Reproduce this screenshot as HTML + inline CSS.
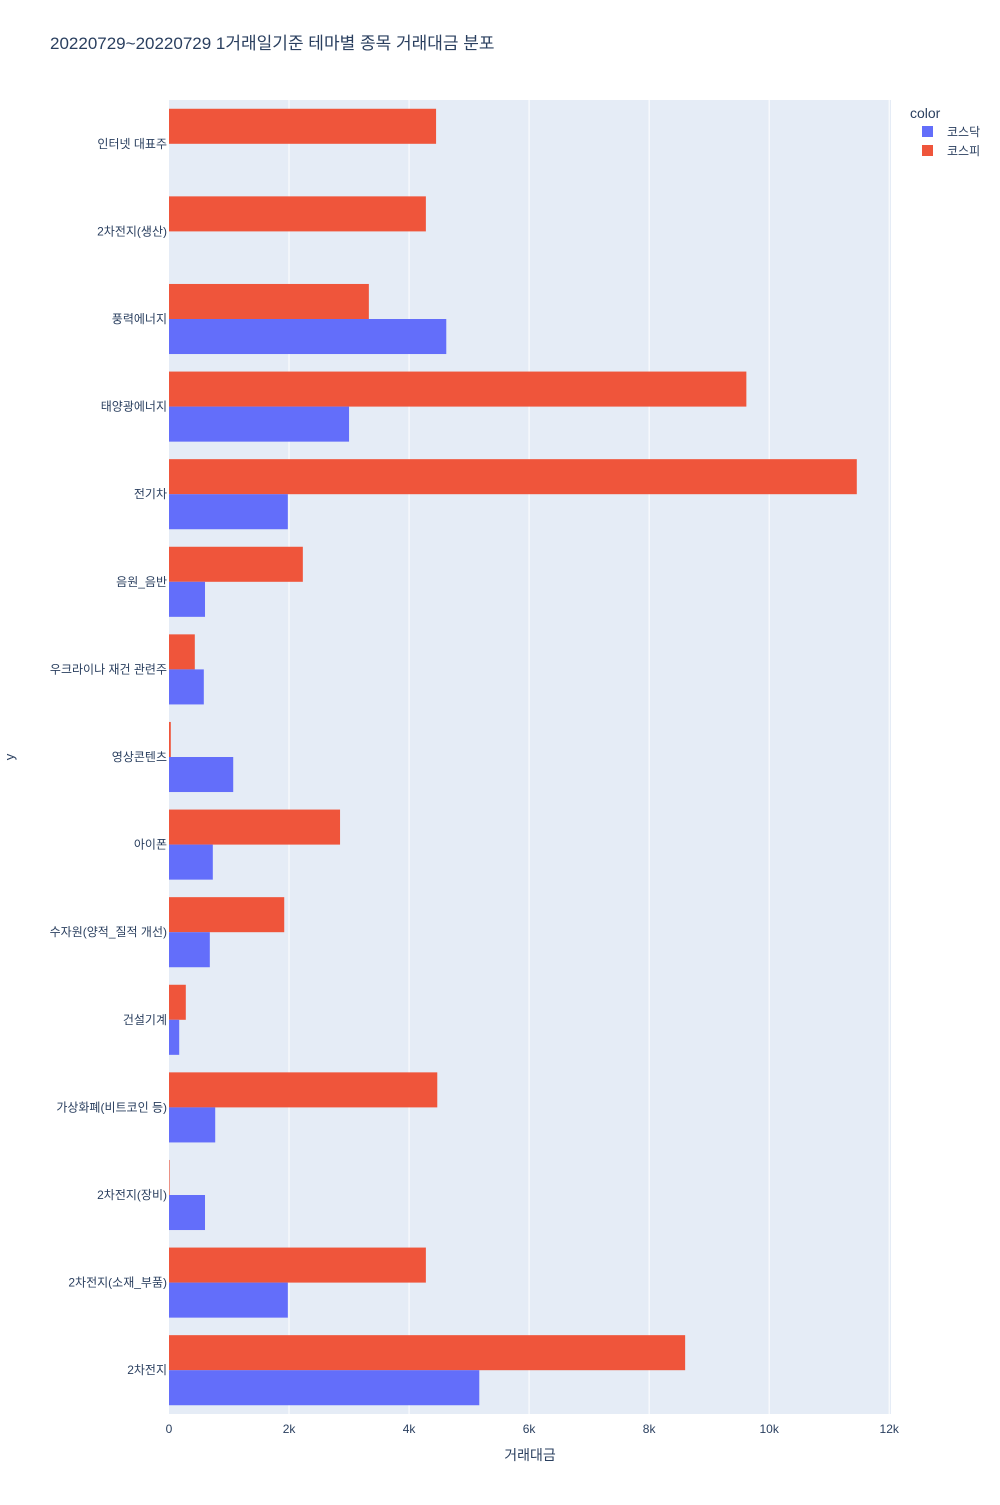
<!DOCTYPE html>
<html><head><meta charset="utf-8"><style>
body{margin:0;background:#fff;font-family:"Liberation Sans","Noto Sans CJK KR",sans-serif;}
svg text{font-family:"Liberation Sans","Noto Sans CJK KR",sans-serif;fill:#2a3f5f;}
</style></head><body>
<svg id="chart" width="1000" height="1500">
<text x="50" y="49" font-size="17">20220729~20220729 1거래일기준 테마별 종목 거래대금 분포</text>
<rect x="169" y="100" width="722" height="1314" fill="#e5ecf6"/>
<g id="grid"></g><g id="bars"></g><g id="ylabels"></g><g id="xlabels"></g>
<text x="530" y="1460" font-size="14" text-anchor="middle">거래대금</text>
<text x="14" y="757" font-size="13" text-anchor="middle" transform="rotate(-90 14 757)">y</text>
<text x="910" y="118" font-size="14">color</text>
<g><rect x="922" y="126" width="11" height="11" fill="#636efa"/><text x="947" y="136" font-size="12">코스닥</text></g>
<g><rect x="922" y="145" width="11" height="11" fill="#ef553b"/><text x="947" y="155" font-size="12">코스피</text></g>
</svg>
<script>
const categories=["인터넷 대표주","2차전지(생산)","풍력에너지","태양광에너지","전기차","음원_음반","우크라이나 재건 관련주","영상콘텐츠","아이폰","수자원(양적_질적 개선)","건설기계","가상화폐(비트코인 등)","2차전지(장비)","2차전지(소재_부품)","2차전지"];
const kospi=[4450,4280,3330,9620,11460,2230,430,30,2850,1920,280,4470,10,4280,8600];
const kosdaq=[0,0,4620,3000,1980,600,580,1070,730,680,170,770,600,1980,5170];
const xTicks=[0,2000,4000,6000,8000,10000,12000];
const xTickLabels=["0","2k","4k","6k","8k","10k","12k"];
const X0=169,X1=891,XMAX=12030,Y0=100,Y1=1414;
const ns="http://www.w3.org/2000/svg";
const x=v=>X0+v/XMAX*(X1-X0);
const band=(Y1-Y0)/categories.length;
const yb=i=>Y0+i*band;
function mk(t,a,p){const e=document.createElementNS(ns,t);for(const k in a)e.setAttribute(k,a[k]);document.getElementById(p).appendChild(e);return e;}
xTicks.forEach((t,i)=>{
 if(t>0){const g=mk('line',{x1:x(t),x2:x(t),y1:Y0,y2:Y1,stroke:'#fff','stroke-width':1},'grid');
 
 }
 const l=mk('text',{x:x(t),y:1433,'font-size':12,'text-anchor':'middle'},'xlabels');l.textContent=xTickLabels[i];
 
 
});
const bw=band*0.4;
categories.forEach((c,i)=>{
 const top=yb(i)+band*0.1;
 const r=mk('rect',{x:X0,y:top,width:Math.max(0,x(kospi[i])-X0),height:bw,fill:'#ef553b'},'bars');
 
 
 const b=mk('rect',{x:X0,y:top+bw,width:Math.max(0,x(kosdaq[i])-X0),height:bw,fill:'#636efa'},'bars');
 
 
 const t=mk('text',{x:167,y:yb(i)+band/2+4,'font-size':12,'text-anchor':'end'},'ylabels');t.textContent=c;
 
 
});
</script>
</body></html>
